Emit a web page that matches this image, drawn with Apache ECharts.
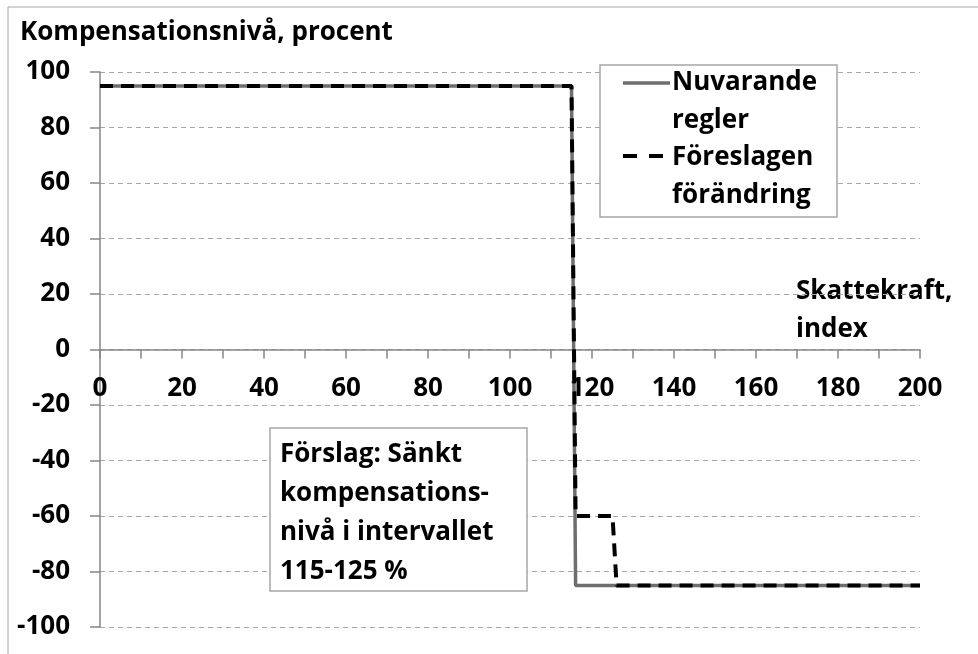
<!DOCTYPE html>
<html>
<head>
<meta charset="utf-8">
<script src="https://cdn.jsdelivr.net/npm/echarts@6/dist/echarts.min.js"></script>
<style>
  html, body { margin: 0; padding: 0; background: #fff; }
  #chart { width: 978px; height: 654px; }
</style>
</head>
<body>
<div id="chart"></div>
<script>
// values
var xNuvarande = [0, 115, 116, 200];
var yNuvarande = [95, 95, -85, -85];
var xForeslagen = [0, 115, 116, 125, 126, 200];
var yForeslagen = [95, 95, -60, -60, -85, -85];
var xTicks = [0, 200, 20];
var yTicks = [-100, 100, 20];

var FONT = '"Open Sans"';
var FS = 26;

function pairs(xs, ys) {
    var out = [];
    for (var i = 0; i < xs.length; i++) out.push([xs[i], ys[i]]);
    return out;
}

var gridTop = 72, gridBottom = 27, H = 654;
var plotH = H - gridTop - gridBottom;
// x axis sits on y = 0, shift it up from the bottom of the grid
var zeroOffset = plotH * (0 - yTicks[0]) / (yTicks[1] - yTicks[0]);

var chart = echarts.init(document.getElementById('chart'));
chart.setOption({
    animation: false,
    textStyle: { fontFamily: FONT, fontWeight: 'bold', color: '#000' },
    grid: { left: 100, right: 58, top: gridTop, bottom: gridBottom },
    graphic: [
        { type: 'rect', shape: { x: 8, y: 7, width: 1000, height: 700 },
          style: { fill: 'none', stroke: '#a6a6a6', lineWidth: 1 }, z: -1 },
        { type: 'text', left: 20, top: 20,
          style: { text: 'Kompensationsnivå, procent', font: 'bold ' + FS + 'px ' + FONT, fill: '#000' } },
        { type: 'text', left: 796, top: 273,
          style: { text: 'Skattekraft,\nindex', font: 'bold ' + FS + 'px ' + FONT, lineHeight: 38, fill: '#000' } },
        // legend box
        { type: 'rect', shape: { x: 600, y: 65, width: 237, height: 152 },
          style: { fill: '#fff', stroke: '#a6a6a6', lineWidth: 1.5 }, z: 10 },
        { type: 'line', shape: { x1: 623, y1: 83, x2: 670, y2: 83 },
          style: { stroke: '#6e6e6e', lineWidth: 3.5 }, z: 11 },
        { type: 'line', shape: { x1: 623, y1: 156, x2: 669, y2: 156 },
          style: { stroke: '#000', lineWidth: 4, lineDash: [14, 12] }, z: 11 },
        { type: 'text', left: 672, top: 64, z: 11,
          style: { text: 'Nuvarande\nregler\nFöreslagen\nförändring', font: 'bold ' + FS + 'px ' + FONT, lineHeight: 37.5, fill: '#000' } },
        // annotation box
        { type: 'rect', shape: { x: 270, y: 428, width: 257, height: 163 },
          style: { fill: '#fff', stroke: '#a6a6a6', lineWidth: 1.5 }, z: 10 },
        { type: 'text', left: 280, top: 435, z: 11,
          style: { text: 'Förslag: Sänkt\nkompensations-\nnivå i intervallet\n115-125 %', font: 'bold ' + FS + 'px ' + FONT, lineHeight: 39, fill: '#000' } }
    ],
    xAxis: {
        type: 'value',
        min: xTicks[0], max: xTicks[1], interval: xTicks[2],
        offset: -zeroOffset,
        axisLine: { onZero: false, lineStyle: { color: '#868686', width: 1.5 } },
        axisTick: { show: true, length: 9, lineStyle: { color: '#868686', width: 1.5 } },
        minorTick: { show: true, splitNumber: 2, length: 9, lineStyle: { color: '#868686', width: 1.5 } },
        axisLabel: { margin: 26, fontSize: FS, fontWeight: 'bold', fontFamily: FONT, color: '#000' },
        splitLine: { show: false }
    },
    yAxis: {
        type: 'value',
        min: yTicks[0], max: yTicks[1], interval: yTicks[2],
        axisLine: { show: true, lineStyle: { color: '#868686', width: 1.5 } },
        axisTick: { show: true, length: 10, lineStyle: { color: '#868686', width: 1.5 } },
        axisLabel: { margin: 30, fontSize: FS, fontWeight: 'bold', fontFamily: FONT, color: '#000' },
        splitLine: { show: true, lineStyle: { color: '#a6a6a6', type: [5, 4], width: 1.2 } }
    },
    series: [
        {
            name: 'Nuvarande regler', type: 'line', symbol: 'none',
            data: pairs(xNuvarande, yNuvarande),
            lineStyle: { color: '#6e6e6e', width: 3.5 }, z: 2
        },
        {
            name: 'Föreslagen förändring', type: 'line', symbol: 'none',
            data: pairs(xForeslagen, yForeslagen),
            lineStyle: { color: '#000', width: 4, type: [13, 8] }, z: 3
        }
    ]
});
</script>
</body>
</html>
